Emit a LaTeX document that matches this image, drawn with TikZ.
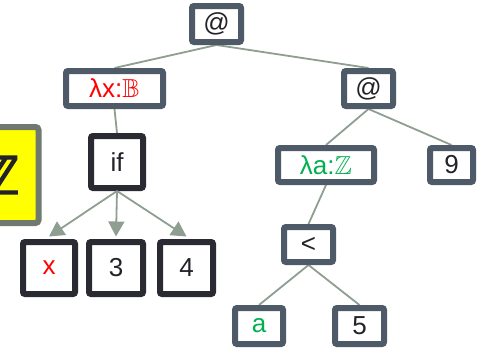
\documentclass[tikz,border=0pt]{standalone}
\usepackage{amssymb}
\usepackage{fontspec}
\setmainfont{Liberation Sans}
\newfontfamily\zfont{DejaVu Sans Bold}[FakeBold=2.5]
\usetikzlibrary{arrows.meta,backgrounds}
\definecolor{slate}{HTML}{4E5A68}
\definecolor{darkb}{HTML}{2A2A33}
\definecolor{edgec}{HTML}{8E9E90}
\definecolor{ybord}{HTML}{6F7970}
\definecolor{txt}{HTML}{222228}
\definecolor{grn}{HTML}{00B050}
\definecolor{yel}{HTML}{FFFF00}
\begin{document}
\begin{tikzpicture}[x=1pt,y=-1pt,
  box/.style={draw=slate, line width=6pt, fill=white, rounded corners=2pt, inner sep=0pt, text=txt, font=\fontsize{26}{30}\selectfont},
  dbox/.style={box, draw=darkb},
  edge/.style={draw=edgec, line width=1.8pt},
  arr/.style={edge, -{Triangle[length=15pt,width=16pt]}}]
\useasboundingbox (0,0) rectangle (477,348);
% yellow box
\node[draw=ybord, fill=yel, line width=6pt, rounded corners=3pt, minimum width=77pt, minimum height=96pt, inner sep=0pt, text=txt, font=\zfont\fontsize{52}{60}\selectfont] (yb) at (0,175) {ℤ};
% nodes
\node[box, minimum width=49pt, minimum height=36pt] (at1) at (216.5,24) {@};
\node[box, minimum width=97pt, minimum height=35pt, text=red] (lamx) at (114.5,88.5) {λx:$\mathbb{B}$};
\node[box, minimum width=49pt, minimum height=35pt] (at2) at (368.5,88.5) {@};
\node[dbox, minimum width=52pt, minimum height=52pt] (ifn) at (117,162) {if};
\node[box, minimum width=96pt, minimum height=34pt, text=grn] (lama) at (326,165) {λa:$\mathbb{Z}$};
\node[box, minimum width=43pt, minimum height=34pt] (nine) at (451.5,165) {9};
\node[dbox, minimum width=52pt, minimum height=52pt, text=red] (xn) at (49,268) {x};
\node[dbox, minimum width=54pt, minimum height=52pt] (three) at (116,268) {3};
\node[dbox, minimum width=53pt, minimum height=52pt] (four) at (186.5,268) {4};
\node[box, minimum width=49pt, minimum height=35pt] (lt) at (308.5,244.5) {<};
\node[box, minimum width=48pt, minimum height=36pt, text=grn] (an) at (259,326) {a};
\node[box, minimum width=49pt, minimum height=36pt] (five) at (359.5,326) {5};
% edges
\begin{scope}[on background layer]
\draw[edge] (at1.south) -- (lamx.north);
\draw[edge] (at1.south) -- (at2.north);
\draw[edge] (lamx.south) -- (ifn.north);
\draw[edge] (at2.south) -- (lama.north);
\draw[edge] (at2.south) -- (nine.north);
\draw[edge] (lama.south) -- (lt.north);
\draw[edge] (lt.south) -- (an.north);
\draw[edge] (lt.south) -- (five.north);
\end{scope}
\draw[arr] (ifn.south) -- ([yshift=2.5pt]xn.north);
\draw[arr] (ifn.south) -- ([yshift=2.5pt]three.north);
\draw[arr] (ifn.south) -- ([yshift=2.5pt]four.north);
\end{tikzpicture}
\end{document}
